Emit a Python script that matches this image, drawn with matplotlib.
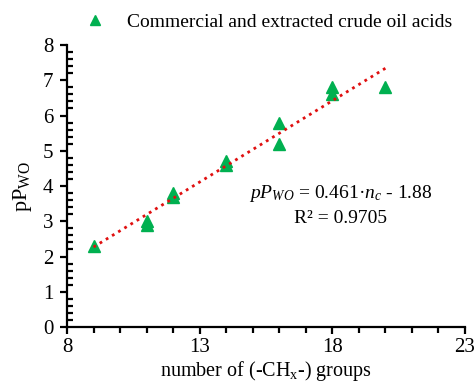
import numpy as np
import matplotlib.pyplot as plt
from matplotlib.ticker import MultipleLocator, FixedLocator

plt.rcParams['font.family'] = 'Liberation Serif'
plt.rcParams['mathtext.fontset'] = 'custom'
plt.rcParams['mathtext.rm'] = 'Liberation Serif'
plt.rcParams['mathtext.it'] = 'Liberation Serif:italic'

# number of CHx groups vs pPwo
n_groups = [9, 11, 11, 12, 12, 14, 14, 16, 16, 18, 18, 20]
ppwo = [2.3, 2.9, 3.0, 3.7, 3.8, 4.6, 4.7, 5.2, 5.8, 6.6, 6.8, 6.8]

# linear fit reported on the chart
slope = 0.461
intercept = -1.88
r2 = 0.9705

fig = plt.figure(figsize=(4.74, 3.83), dpi=100)
ax = fig.add_axes([0.1414, 0.1462, 0.8396, 0.7363])

ax.plot(n_groups, ppwo, linestyle='none', marker='^', markersize=8,
        color='#00B050', label='Commercial and extracted crude oil acids')

xf = np.array([min(n_groups), max(n_groups)])
ax.plot(xf, slope * xf + intercept, linestyle=(0, (1, 1.6)), linewidth=2,
        color='#E01010')

ax.set_xlim(8, 23)
ax.set_ylim(0, 8)
ax.xaxis.set_major_locator(FixedLocator([8, 13, 18, 23]))
ax.xaxis.set_minor_locator(MultipleLocator(1))
ax.yaxis.set_major_locator(MultipleLocator(1))
ax.yaxis.set_minor_locator(MultipleLocator(0.2))

for s in ['top', 'right']:
    ax.spines[s].set_visible(False)
for s in ['left', 'bottom']:
    ax.spines[s].set_linewidth(1.6)

ax.tick_params(axis='both', which='major', labelsize=15, width=1.6, length=5,
               direction='out')
ax.tick_params(axis='y', which='major', pad=5)
ax.tick_params(axis='x', which='major', pad=3)
ax.tick_params(axis='x', which='minor', width=1.6, length=4, direction='out')
ax.tick_params(axis='y', which='minor', width=1.6, length=4, direction='in')

ax.set_xlabel('number of (-CH$_\\mathregular{x}$-) groups', fontsize=14.5, labelpad=1)
ax.set_ylabel('pP$_\\mathregular{WO}$', fontsize=16, labelpad=6)

ax.text(18.3, 3.78, '$pP_{WO}$ = 0.461·$n_c$ - 1.88', fontsize=14,
        ha='center', va='center')
ax.text(18.3, 3.08, 'R² = %.4f' % r2, fontsize=14, ha='center', va='center')

fig.legend(loc='center left', bbox_to_anchor=(0.181, 0.943), frameon=False,
           fontsize=14, handletextpad=1.2, borderpad=0, borderaxespad=0,
           handlelength=0.9, markerscale=0.85)

fig.savefig('out.png', dpi=100)
plt.close()
